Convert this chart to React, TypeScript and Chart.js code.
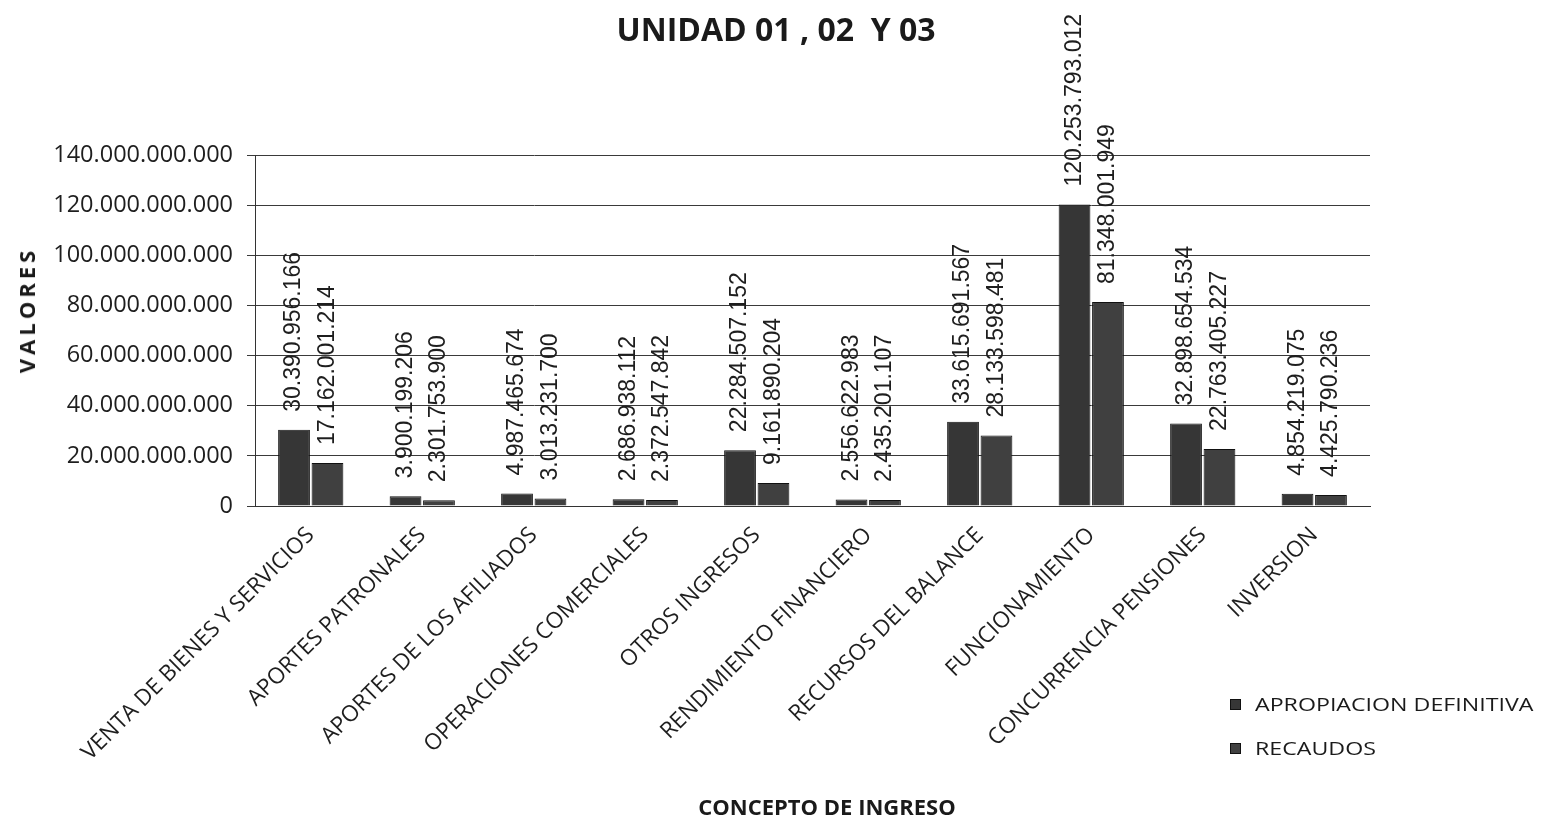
import React, { useEffect, useRef } from "react";
import { Chart, registerables } from "chart.js";

Chart.register(...registerables);

const categories = [
  "VENTA DE BIENES Y SERVICIOS",
  "APORTES PATRONALES",
  "APORTES DE LOS AFILIADOS",
  "OPERACIONES COMERCIALES",
  "OTROS INGRESOS",
  "RENDIMIENTO FINANCIERO",
  "RECURSOS DEL BALANCE",
  "FUNCIONAMIENTO",
  "CONCURRENCIA PENSIONES",
  "INVERSION",
];

const apropiacionDefinitiva = [
  30390956166, 3900199206, 4987465674, 2686938112, 22284507152, 2556622983,
  33615691567, 120253793012, 32898654534, 4854219075,
];

const recaudos = [
  17162001214, 2301753900, 3013231700, 2372547842, 9161890204, 2435201107,
  28133598481, 81348001949, 22763405227, 4425790236,
];

const seriesNames = ["APROPIACION DEFINITIVA", "RECAUDOS"];
const yMin = 0;
const yMax = 140000000000;
const yStep = 20000000000;

const fmt = (v: number) =>
  Math.round(v)
    .toString()
    .replace(/\B(?=(\d{3})+(?!\d))/g, ".");

const dataLabelPlugin = {
  id: "rotatedDataLabels",
  afterDatasetsDraw(chart: any) {
    const ctx = chart.ctx;
    chart.data.datasets.forEach((ds: any, di: number) => {
      const meta = chart.getDatasetMeta(di);
      meta.data.forEach((bar: any, i: number) => {
        const v = ds.data[i];
        ctx.save();
        ctx.translate(bar.x, bar.y - 18);
        ctx.rotate(-Math.PI / 2);
        ctx.font = '23px "Liberation Sans", Arial, sans-serif';
        ctx.fillStyle = "#1e1e1e";
        ctx.textAlign = "left";
        ctx.textBaseline = "middle";
        ctx.fillText(fmt(v), 0, 0);
        ctx.restore();
      });
    });
  },
};

export default function App() {
  const canvasRef = useRef<HTMLCanvasElement | null>(null);

  useEffect(() => {
    document.body.style.margin = "0";
    const canvas = canvasRef.current;
    if (!canvas) return;
    const chart = new Chart(canvas, {
      type: "bar",
      data: {
        labels: categories,
        datasets: [
          {
            label: seriesNames[0],
            data: apropiacionDefinitiva,
            backgroundColor: "#363636",
            borderColor: "#111111",
            borderWidth: 1,
            categoryPercentage: 0.6,
            barPercentage: 0.95,
          },
          {
            label: seriesNames[1],
            data: recaudos,
            backgroundColor: "#404040",
            borderColor: "#111111",
            borderWidth: 1,
            categoryPercentage: 0.6,
            barPercentage: 0.95,
          },
        ],
      },
      options: {
        animation: false,
        responsive: false,
        devicePixelRatio: 1,
        layout: { padding: { left: 0, right: 171, top: 155, bottom: 0 } },
        plugins: {
          legend: { display: false },
          title: { display: false },
          tooltip: { enabled: false },
        },
        scales: {
          x: {
            grid: { display: false },
            border: { display: true, color: "#333333", width: 1 },
            ticks: {
              minRotation: 45,
              maxRotation: 45,
              autoSkip: false,
              color: "#1e1e1e",
              padding: 8,
              font: { family: '"Open Sans", sans-serif', size: 22.5 },
            },
            afterFit(scale: any) {
              scale.height = 311;
            },
          },
          y: {
            min: yMin,
            max: yMax,
            ticks: {
              stepSize: yStep,
              color: "#1e1e1e",
              padding: 14,
              font: { family: '"Open Sans", sans-serif', size: 23.5 },
              callback: (v: any) => fmt(Number(v)),
            },
            grid: {
              color: "#3a3a3a",
              lineWidth: 1,
              tickLength: 8,
              drawTicks: true,
            },
            border: { display: true, color: "#333333", width: 1 },
            afterFit(scale: any) {
              scale.width = 255;
            },
          },
        },
      },
      plugins: [dataLabelPlugin],
    });
    return () => chart.destroy();
  }, []);

  const textBase: React.CSSProperties = {
    position: "absolute",
    fontFamily: '"Open Sans", sans-serif',
    color: "#1a1a1a",
    whiteSpace: "pre",
    lineHeight: 1,
  };

  return (
    <div
      style={{
        position: "absolute",
        left: 0,
        top: 0,
        width: 1541,
        height: 817,
        background: "#ffffff",
        overflow: "hidden",
      }}
    >
      <canvas
        ref={canvasRef}
        width={1541}
        height={817}
        style={{ position: "absolute", left: 0, top: 0, width: 1541, height: 817 }}
      />
      <div
        style={{
          ...textBase,
          left: 776,
          top: 29,
          transform: "translate(-50%, -50%)",
          fontWeight: 700,
          fontSize: 32,
        }}
      >
        {"UNIDAD 01 , 02  Y 03"}
      </div>
      <div
        style={{
          ...textBase,
          left: 827,
          top: 806,
          transform: "translate(-50%, -50%)",
          fontWeight: 700,
          fontSize: 22,
        }}
      >
        CONCEPTO DE INGRESO
      </div>
      <div
        style={{
          ...textBase,
          left: 26,
          top: 310,
          transform: "translate(-50%, -50%) rotate(-90deg)",
          fontWeight: 700,
          fontSize: 22,
          letterSpacing: 4,
        }}
      >
        VALORES
      </div>
      {seriesNames.map((name, i) => (
        <div
          key={name}
          style={{
            position: "absolute",
            left: 1230,
            top: 692 + i * 44,
            height: 24,
            display: "flex",
            alignItems: "center",
          }}
        >
          <span
            style={{
              display: "inline-block",
              width: 11,
              height: 11,
              background: i === 0 ? "#363636" : "#404040",
              border: "1px solid #111",
              boxSizing: "border-box",
              marginRight: 14,
            }}
          />
          <span
            style={{
              fontFamily: '"Open Sans", sans-serif',
              fontSize: 19,
              color: "#1a1a1a",
              whiteSpace: "pre",
              display: "inline-block",
              transform: "scaleX(1.22)",
              transformOrigin: "left center",
            }}
          >
            {name}
          </span>
        </div>
      ))}
    </div>
  );
}
